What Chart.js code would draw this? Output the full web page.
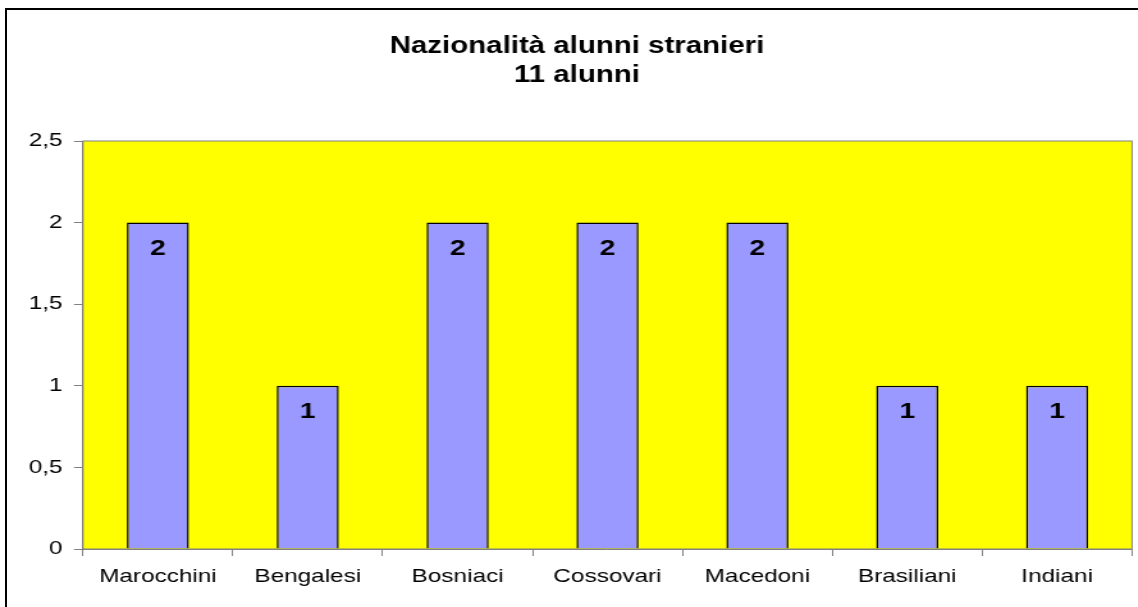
<!DOCTYPE html>
<html>
<head>
<meta charset="utf-8">
<title>Nazionalità alunni stranieri</title>
<script src="https://cdn.jsdelivr.net/npm/chart.js@4.4.0/dist/chart.umd.min.js"></script>
<style>
    html, body { margin: 0; padding: 0; background: #fff; overflow: hidden; }
    #page { position: relative; width: 1138px; height: 607px; overflow: hidden; }
    /* the original picture is a bit wider than tall, so the canvas is stretched sideways */
    #stretch { position: absolute; left: 0; top: 0; transform: scaleX(1.28); transform-origin: 0 0; }
    #frame { position: absolute; left: 5px; top: 8px; width: 1200px; height: 700px; border: 2px solid #000; box-sizing: border-box; }
</style>
</head>
<body>
<div id="page">
    <div id="stretch"><canvas id="chart" width="889" height="607"></canvas></div>
    <div id="frame"></div>
</div>
<script>
const titleLines = ['Nazionalità alunni stranieri', '11 alunni'];
const nationalities = ['Marocchini', 'Bengalesi', 'Bosniaci', 'Cossovari', 'Macedoni', 'Brasiliani', 'Indiani'];
const pupils = [2, 1, 2, 2, 2, 1, 1];
const yTickLabels = ['0', '0,5', '1', '1,5', '2', '2,5'];

const FONT = '"Liberation Sans", Arial, sans-serif';

// yellow plot area with a grey border
const plotArea = {
    id: 'plotArea',
    beforeDatasetsDraw(chart) {
        const {ctx, chartArea: a} = chart;
        ctx.save();
        ctx.fillStyle = '#ffff00';
        ctx.fillRect(a.left, a.top, a.right - a.left, a.bottom - a.top);
        ctx.restore();
    },
    afterDraw(chart) {
        const {ctx, chartArea: a} = chart;
        ctx.save();
        ctx.strokeStyle = '#808080';
        ctx.lineWidth = 1;
        ctx.strokeRect(a.left, a.top, a.right - a.left, a.bottom - a.top);
        ctx.restore();
    }
};

// value written inside the top of every bar
const barValues = {
    id: 'barValues',
    afterDatasetsDraw(chart) {
        const {ctx} = chart;
        const meta = chart.getDatasetMeta(0);
        ctx.save();
        ctx.font = 'bold 22px ' + FONT;
        ctx.fillStyle = '#000';
        ctx.textAlign = 'center';
        ctx.textBaseline = 'middle';
        meta.data.forEach((bar, i) => {
            ctx.fillText(String(pupils[i]), bar.x, bar.y + 26);
        });
        ctx.restore();
    }
};

// two line bold title
const chartTitle = {
    id: 'chartTitle',
    afterDraw(chart) {
        const {ctx} = chart;
        ctx.save();
        ctx.font = 'bold 23px ' + FONT;
        ctx.fillStyle = '#000';
        ctx.textAlign = 'center';
        ctx.textBaseline = 'alphabetic';
        ctx.fillText(titleLines[0], 450.8, 53);
        ctx.fillText(titleLines[1], 450.8, 82);
        ctx.restore();
    }
};

new Chart(document.getElementById('chart'), {
    type: 'bar',
    data: {
        labels: nationalities,
        datasets: [{
            data: pupils,
            backgroundColor: '#9999ff',
            borderColor: '#000000',
            borderWidth: 1.5,
            borderSkipped: 'bottom',
            categoryPercentage: 1,
            barPercentage: 0.414
        }]
    },
    options: {
        responsive: false,
        devicePixelRatio: 1,
        animation: false,
        layout: {
            padding: {left: 0, top: 141, right: 4.6, bottom: 0}
        },
        plugins: {
            legend: {display: false},
            title: {display: false},
            tooltip: {enabled: false}
        },
        scales: {
            x: {
                afterFit: scale => { scale.height = 58; },
                grid: {
                    drawOnChartArea: false,
                    tickLength: 7,
                    tickColor: '#808080',
                    offset: true
                },
                border: {color: '#808080'},
                ticks: {
                    color: '#000',
                    padding: 9,
                    maxRotation: 0,
                    autoSkip: false,
                    font: {family: FONT, size: 19}
                }
            },
            y: {
                min: 0,
                max: 2.5,
                afterFit: scale => { scale.width = 64.8; },
                grid: {
                    drawOnChartArea: false,
                    tickLength: 7,
                    tickColor: '#808080'
                },
                border: {color: '#666666'},
                ticks: {
                    stepSize: 0.5,
                    color: '#000',
                    padding: 9,
                    font: {family: FONT, size: 19},
                    callback: (value, index) => yTickLabels[index]
                }
            }
        }
    },
    plugins: [plotArea, barValues, chartTitle]
});
</script>
</body>
</html>
